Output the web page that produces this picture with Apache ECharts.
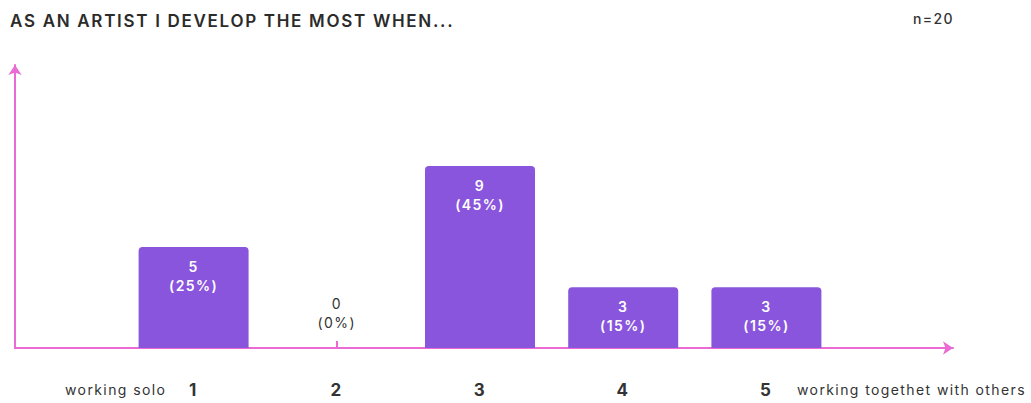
<!DOCTYPE html>
<html><head><meta charset="utf-8">
<script src="https://cdn.jsdelivr.net/npm/echarts@6/dist/echarts.min.js"></script>
<style>html,body{margin:0;padding:0;background:#fff}#c{width:1031px;height:403px}
#c svg text{letter-spacing:0.1em}</style>
</head><body><div id="c"></div>
<script>
var categories = ['1', '2', '3', '4', '5'];
var counts = [5, 0, 9, 3, 3];
var total = 20;
var titleText = 'AS AN ARTIST I DEVELOP THE MOST WHEN...';
var leftLabel = 'working solo';
var rightLabel = 'working togethet with others';

var pink = '#ea6bd3';
var purple = '#8a55dd';
var font = 'Inter';

var chart = echarts.init(document.getElementById('c'), null, { renderer: 'svg' });
var data = counts.map(function (v) {
  var d = { value: v };
  if (v === 0) {
    d.label = { position: 'top', color: '#333', fontWeight: 'normal', distance: 16 };
  }
  return d;
});
chart.setOption({
  animation: false,
  textStyle: { fontFamily: font },
  title: [
    { text: titleText, left: 5, top: 7, textStyle: { fontFamily: font, fontSize: 17, fontWeight: 600, color: '#2b2b2b' } },
    { text: 'n=' + total, left: 908, top: 6, textStyle: { fontFamily: font, fontSize: 14, fontWeight: 500, color: '#333' } },
    { text: leftLabel, left: 60, top: 377, textStyle: { fontFamily: font, fontSize: 14, fontWeight: 'normal', color: '#333' } },
    { text: rightLabel, left: 792, top: 377, textStyle: { fontFamily: font, fontSize: 14, fontWeight: 'normal', color: '#333' } }
  ],
  grid: [
    { left: 122, right: 193, top: 65, bottom: 55 },
    { left: 15, right: 78, top: 65, bottom: 55 }
  ],
  xAxis: [
    {
      type: 'category', gridIndex: 0, data: categories,
      axisLine: { show: false },
      axisTick: { show: true, inside: true, alignWithLabel: true, length: 7, lineStyle: { color: pink, width: 2 } },
      axisLabel: { margin: 33, fontSize: 17, fontWeight: 'bold', color: '#333', fontFamily: font }
    },
    {
      type: 'value', gridIndex: 1, min: 0, max: 1,
      axisLine: { show: true, symbol: ['none', 'arrow'], symbolSize: [10, 10], lineStyle: { color: pink, width: 2 } },
      axisTick: { show: false }, axisLabel: { show: false }, splitLine: { show: false }
    }
  ],
  yAxis: [
    { type: 'value', gridIndex: 0, min: 0, max: 14, show: false },
    {
      type: 'value', gridIndex: 1, min: 0, max: 1,
      axisLine: { show: true, symbol: ['none', 'arrow'], symbolSize: [10, 10], lineStyle: { color: pink, width: 2 } },
      axisTick: { show: false }, axisLabel: { show: false }, splitLine: { show: false }
    }
  ],
  series: [{
    type: 'bar', xAxisIndex: 0, yAxisIndex: 0,
    data: data,
    barWidth: 110,
    itemStyle: { color: purple, borderRadius: [4, 4, 0, 0] },
    label: {
      show: true, position: 'insideTop', distance: 10,
      color: '#fff', fontSize: 14, fontWeight: 600, lineHeight: 19, fontFamily: font,
      formatter: function (p) { return p.value + '\n(' + Math.round(p.value / total * 100) + '%)'; }
    }
  }]
});
</script></body></html>
